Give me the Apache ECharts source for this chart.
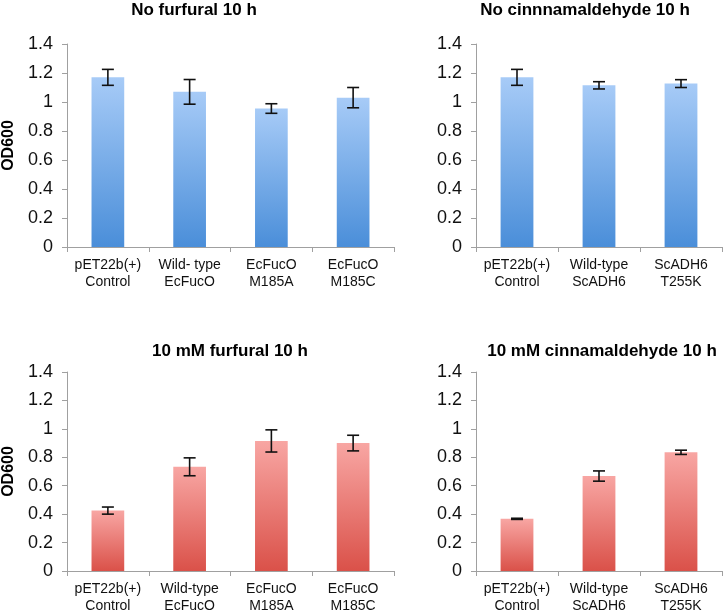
<!DOCTYPE html>
<html><head><meta charset="utf-8">
<script src="https://cdn.jsdelivr.net/npm/echarts@6.0.0/dist/echarts.min.js"></script>
<style>html,body{margin:0;padding:0;background:#fff}#c{width:725px;height:615px}</style>
</head><body><div id="c"></div>
<script>
const furfuralCatsTop = ['pET22b(+)\nControl', 'Wild- type\nEcFucO', 'EcFucO\nM185A', 'EcFucO\nM185C'];
const furfuralCatsBottom = ['pET22b(+)\nControl', 'Wild-type\nEcFucO', 'EcFucO\nM185A', 'EcFucO\nM185C'];
const cinnCats = ['pET22b(+)\nControl', 'Wild-type\nScADH6', 'ScADH6\nT255K'];

const noFurfuralOD = [1.17, 1.07, 0.955, 1.03];
const noFurfuralErr = [0.055, 0.085, 0.033, 0.07];
const noCinnOD = [1.17, 1.115, 1.127];
const noCinnErr = [0.055, 0.025, 0.027];
const furfuralOD = [0.425, 0.733, 0.915, 0.9];
const furfuralErr = [0.025, 0.063, 0.078, 0.055];
const cinnOD = [0.367, 0.668, 0.835];
const cinnErr = [0.004, 0.036, 0.015];

const titles = ['No furfural 10 h', 'No cinnnamaldehyde 10 h', '10 mM furfural 10 h', '10 mM cinnamaldehyde 10 h'];
const yMin = 0, yMax = 1.4, yStep = 0.2;

const FONT = '"Liberation Sans", Arial, sans-serif';
const blue = {type:'linear', x:0, y:0, x2:0, y2:1, colorStops:[{offset:0,color:'#a7cbf7'},{offset:1,color:'#4a8ed9'}]};
const red = {type:'linear', x:0, y:0, x2:0, y2:1, colorStops:[{offset:0,color:'#f8a6a3'},{offset:1,color:'#da5149'}]};

const panels = [
  {cats: furfuralCatsTop, vals: noFurfuralOD, errs: noFurfuralErr, color: blue, grid:{left:66, top:44, width:328, height:203}, yname:true},
  {cats: cinnCats, vals: noCinnOD, errs: noCinnErr, color: blue, grid:{left:476, top:44, width:246, height:203}, yname:false},
  {cats: furfuralCatsBottom, vals: furfuralOD, errs: furfuralErr, color: red, grid:{left:66, top:372, width:328, height:202}, yname:true},
  {cats: cinnCats, vals: cinnOD, errs: cinnErr, color: red, grid:{left:476, top:372, width:246, height:202}, yname:false}
];
const titlePos = [{x:194, y:10}, {x:585, y:10}, {x:230, y:351}, {x:602, y:351}];

const option = {
  backgroundColor: '#fff',
  animation: false,
  graphic: titles.map((t, i) => ({
    type: 'text', x: titlePos[i].x, y: titlePos[i].y,
    style: {text: t, fontFamily: FONT, fontWeight: 'bold', fontSize: 17, fill: '#000', align: 'center', verticalAlign: 'middle'}
  })),
  grid: panels.map(p => Object.assign({containLabel:false}, p.grid)),
  xAxis: panels.map((p, i) => ({
    type: 'category', gridIndex: i, data: p.cats,
    axisLine: {lineStyle: {color: '#a0a0a0', width: 1}},
    axisTick: {show: true, length: 5, alignWithLabel: false, lineStyle: {color: '#a0a0a0'}},
    axisLabel: {fontFamily: FONT, fontSize: 14, color: '#111', margin: 10, lineHeight: 17, interval: 0}
  })),
  yAxis: panels.map((p, i) => ({
    type: 'value', gridIndex: i, min: yMin, max: yMax, interval: yStep,
    name: p.yname ? 'OD600' : '', nameLocation: 'middle', nameGap: 50,
    nameTextStyle: {fontFamily: FONT, fontWeight: 'bold', fontSize: 16, color: '#000'},
    splitLine: {show: false},
    axisLine: {show: true, lineStyle: {color: '#a0a0a0', width: 1}},
    axisTick: {show: true, length: 5, lineStyle: {color: '#a0a0a0'}},
    axisLabel: {fontFamily: FONT, fontSize: 18, color: '#111', margin: 14}
  })),
  series: panels.flatMap((p, i) => [
    {type: 'bar', xAxisIndex: i, yAxisIndex: i, data: p.vals, barWidth: '40%',
     itemStyle: {color: p.color}},
    {type: 'custom', xAxisIndex: i, yAxisIndex: i, z: 5,
     data: p.vals.map((v, k) => [k, v, p.errs[k]]),
     encode: {x: 0, y: 1},
     renderItem: function (params, api) {
       const x = api.value(0), v = api.value(1), e = api.value(2);
       const hi = api.coord([x, v + e]);
       const lo = api.coord([x, v - e]);
       const w = 6;
       const st = {stroke: '#111', lineWidth: 1.6};
       return {type: 'group', children: [
         {type: 'line', shape: {x1: hi[0], y1: hi[1], x2: lo[0], y2: lo[1]}, style: st},
         {type: 'line', shape: {x1: hi[0]-w, y1: hi[1], x2: hi[0]+w, y2: hi[1]}, style: st},
         {type: 'line', shape: {x1: lo[0]-w, y1: lo[1], x2: lo[0]+w, y2: lo[1]}, style: st}
       ]};
     }}
  ])
};
const chart = echarts.init(document.getElementById('c'), null, {renderer: 'canvas'});
chart.setOption(option);
</script></body></html>
